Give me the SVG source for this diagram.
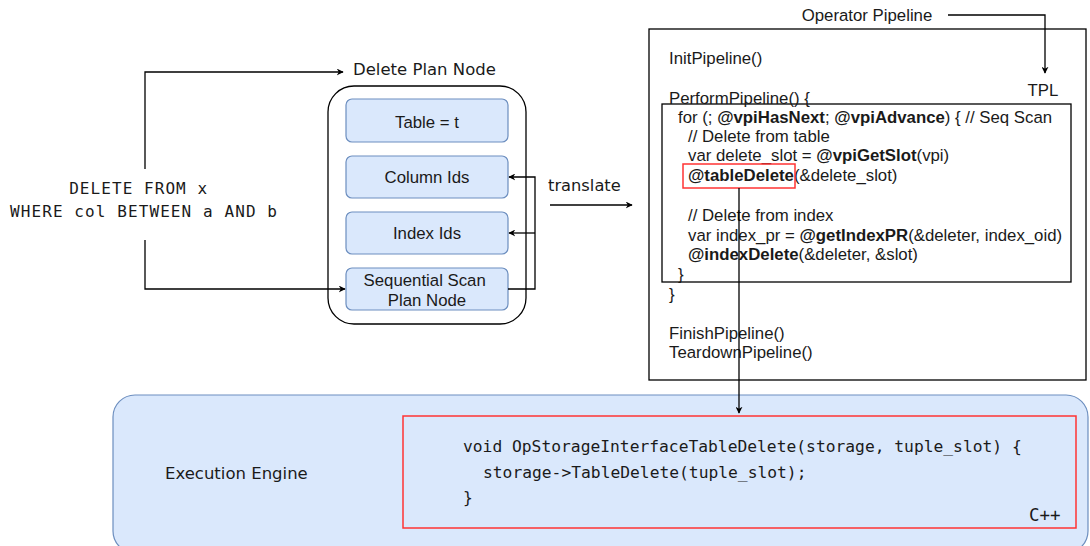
<svg xmlns="http://www.w3.org/2000/svg" width="1090" height="546" viewBox="0 0 1090 546">
  <defs>
    <marker id="arrow" viewBox="0 0 10 10" refX="9" refY="5" markerWidth="7" markerHeight="7" orient="auto" markerUnits="userSpaceOnUse">
      <path d="M0,0 L10,5 L0,10 L3,5 Z" fill="#000"/>
    </marker>
    <style>
      .sans { font-family: "Liberation Sans", Arial, sans-serif; font-size: 16.8px; fill: #1a1a1a; }
      .mono { font-family: "DejaVu Sans Mono", "Liberation Mono", monospace; fill: #1a1a1a; }
      .hum { font-family: "DejaVu Sans", Verdana, sans-serif; fill: #1a1a1a; }
      .field { fill: #dae8fc; stroke: #6c8ebf; stroke-width: 1.2; }
      .line { fill: none; stroke: #000; stroke-width: 1.3; }
      .hl { fill: none; stroke: #ff3333; stroke-width: 1.5; }
      .b { font-weight: bold; }
    </style>
  </defs>
  <rect width="1090" height="546" fill="#fff"/>

  <!-- execution engine backdrop -->
  <g id="execution-engine">
    <rect x="113" y="395" width="975" height="158" rx="22" class="field"/>
    <text x="165" y="479" class="hum" font-size="16.5">Execution Engine</text>
    <rect x="403" y="416" width="673" height="112" class="hl"/>
    <g class="mono" font-size="16.3">
      <text x="463" y="452">void OpStorageInterfaceTableDelete(storage, tuple_slot) {</text>
      <text x="483" y="478">storage-&gt;TableDelete(tuple_slot);</text>
      <text x="463" y="503">}</text>
      <text x="1029" y="521" font-size="17.5">C++</text>
    </g>
  </g>

  <!-- SQL query -->
  <g id="query">
    <text class="mono" font-size="16" text-anchor="middle">
      <tspan x="143.5" y="194" textLength="138" lengthAdjust="spacing">DELETE FROM x</tspan>
      <tspan x="143.5" y="217" textLength="267" lengthAdjust="spacing">WHERE col BETWEEN a AND b</tspan>
    </text>
  </g>

  <!-- delete plan node -->
  <g id="delete-plan-node">
    <text x="353" y="75" class="hum" font-size="16.5">Delete Plan Node</text>
    <rect x="328" y="86" width="198" height="238" rx="26" fill="#fff" stroke="#000" stroke-width="1.3"/>
  </g>
  <g id="table-field">
    <rect x="346" y="99" width="162" height="43" rx="6" class="field"/>
    <text x="427" y="128" class="sans" font-size="17" text-anchor="middle">Table = t</text>
  </g>
  <g id="column-ids">
    <rect x="346" y="156" width="162" height="42" rx="6" class="field"/>
    <text x="427" y="183" class="sans" font-size="17" text-anchor="middle">Column Ids</text>
  </g>
  <g id="index-ids">
    <rect x="346" y="212" width="162" height="42" rx="6" class="field"/>
    <text x="427" y="239" class="sans" font-size="17" text-anchor="middle">Index Ids</text>
  </g>
  <g id="seq-scan">
    <rect x="346" y="268" width="162" height="42" rx="6" class="field"/>
    <text class="sans" font-size="17" text-anchor="middle">
      <tspan x="427" y="286">Sequential Scan</tspan>
      <tspan x="427" y="306">Plan Node</tspan>
    </text>
  </g>

  <!-- operator pipeline (TPL) -->
  <g id="operator-pipeline">
    <text x="867" y="21" class="sans" font-size="17" text-anchor="middle">Operator Pipeline</text>
    <text x="1043" y="96" class="sans" font-size="17.5" text-anchor="middle">TPL</text>
    <rect x="649" y="29" width="437" height="351" fill="none" stroke="#000" stroke-width="1.3"/>
    <rect x="662" y="104" width="409" height="178" fill="none" stroke="#000" stroke-width="1.3"/>
    <g class="sans">
      <text x="669" y="64">InitPipeline()</text>
      <text x="669" y="104">PerformPipeline() {</text>
      <text x="678" y="123">for (; <tspan class="b">@vpiHasNext</tspan>; <tspan class="b">@vpiAdvance</tspan>) { // Seq Scan</text>
      <text x="688" y="142">// Delete from table</text>
      <text x="688" y="161">var delete_slot = <tspan class="b">@vpiGetSlot</tspan>(vpi)</text>
      <text x="688" y="181"><tspan class="b">@tableDelete</tspan>(&amp;delete_slot)</text>
      <text x="688" y="221">// Delete from index</text>
      <text x="688" y="241">var index_pr = <tspan class="b">@getIndexPR</tspan>(&amp;deleter, index_oid)</text>
      <text x="688" y="260"><tspan class="b">@indexDelete</tspan>(&amp;deleter, &amp;slot)</text>
      <text x="678" y="280">}</text>
      <text x="669" y="300">}</text>
      <text x="669" y="339">FinishPipeline()</text>
      <text x="669" y="358">TeardownPipeline()</text>
    </g>
    <rect x="683" y="164" width="112" height="24" class="hl"/>
  </g>

  <!-- connectors -->
  <g id="connectors">
    <path d="M145,169 V72 H343" class="line" marker-end="url(#arrow)"/>
    <path d="M145,240 V289 H345" class="line" marker-end="url(#arrow)"/>
    <path d="M508,289 H535 V177 H509" class="line" marker-end="url(#arrow)"/>
    <path d="M535,233 H509" class="line" marker-end="url(#arrow)"/>
    <path d="M550,205 H632" class="line" marker-end="url(#arrow)"/>
    <text x="548" y="191" class="hum" font-size="16.3">translate</text>
    <path d="M948,15 H1045 V73" class="line" marker-end="url(#arrow)"/>
    <path d="M739,188 V413" class="line" marker-end="url(#arrow)"/>
  </g>
</svg>
